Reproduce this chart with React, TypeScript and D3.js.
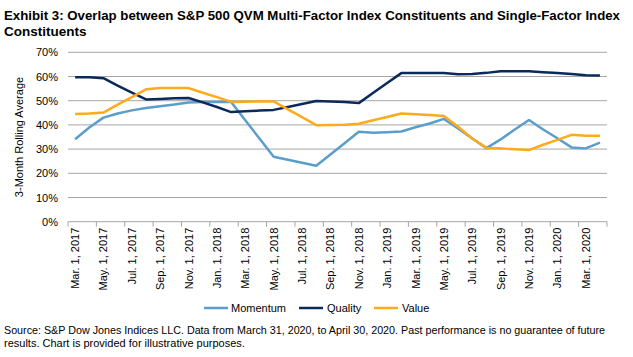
import React from "react";
import * as d3 from "d3";

const months: string[] = [
  "Mar. 1, 2017","Apr. 1, 2017","May. 1, 2017","Jun. 1, 2017","Jul. 1, 2017","Aug. 1, 2017","Sep. 1, 2017","Oct. 1, 2017","Nov. 1, 2017","Dec. 1, 2017",
  "Jan. 1, 2018","Feb. 1, 2018","Mar. 1, 2018","Apr. 1, 2018","May. 1, 2018","Jun. 1, 2018","Jul. 1, 2018","Aug. 1, 2018","Sep. 1, 2018","Oct. 1, 2018",
  "Nov. 1, 2018","Dec. 1, 2018","Jan. 1, 2019","Feb. 1, 2019","Mar. 1, 2019","Apr. 1, 2019","May. 1, 2019","Jun. 1, 2019","Jul. 1, 2019","Aug. 1, 2019",
  "Sep. 1, 2019","Oct. 1, 2019","Nov. 1, 2019","Dec. 1, 2019","Jan. 1, 2020","Feb. 1, 2020","Mar. 1, 2020","Apr. 1, 2020",
];

const momentum: number[] = [
  34.1, 38.9, 43.0, 44.7, 46.0, 47.0, 47.7, 48.4, 49.3, 49.5,
  49.5, 49.5, 41.9, 34.4, 26.8, 25.6, 24.4, 23.1, 27.8, 32.4,
  37.2, 36.8, 37.0, 37.3, 39.0, 40.6, 42.5, 38.5, 34.4, 30.4,
  34.0, 38.1, 42.0, 38.1, 34.5, 30.7, 30.3, 32.7,
];

const quality: number[] = [
  59.7, 59.7, 59.3, 56.2, 53.3, 50.5, 50.7, 51.0, 51.1, 49.3,
  47.4, 45.3, 45.6, 45.9, 46.2, 47.4, 48.6, 49.9, 49.7, 49.5,
  49.0, 53.2, 57.3, 61.4, 61.4, 61.4, 61.4, 60.9, 61.0, 61.5,
  62.2, 62.2, 62.2, 61.8, 61.4, 61.0, 60.5, 60.4,
];

const value: number[] = [
  44.5, 44.7, 45.1, 48.4, 51.5, 54.7, 55.2, 55.2, 55.2, 53.3,
  51.5, 49.5, 49.6, 49.7, 49.7, 46.4, 43.2, 39.9, 40.0, 40.1,
  40.5, 41.9, 43.3, 44.7, 44.4, 44.1, 43.7, 39.2, 34.4, 30.5,
  30.3, 29.9, 29.6, 31.8, 33.8, 35.9, 35.5, 35.5,
];

const yTicks: number[] = [0, 10, 20, 30, 40, 50, 60, 70];

const seriesNames: string[] = ["Momentum", "Quality", "Value"];
const seriesColors: string[] = ["#5B9DCB", "#0A2A5A", "#FDAA1B"];

const titleLines: string[] = [
  "Exhibit 3: Overlap between S&P 500 QVM Multi-Factor Index Constituents and Single-Factor Index",
  "Constituents",
];
const footerLines: string[] = [
  "Source: S&P Dow Jones Indices LLC. Data from March 31, 2020, to April 30, 2020. Past performance is no guarantee of future",
  "results. Chart is provided for illustrative purposes.",
];
const yAxisTitle = "3-Month Rolling Average";

const FONT = "Arial, 'Liberation Sans', Helvetica, sans-serif";

export default function App() {
  const W = 633, H = 357;
  const left = 68, right = 607, top = 52.3, bottom = 221.7;

  const x = d3.scalePoint<string>().domain(months).range([left, right]).padding(0.5);
  const step = x.step();
  const y = d3.scaleLinear().domain([0, 70]).range([bottom, top]);

  const allSeries = [momentum, quality, value];
  const line = d3
    .line<number>()
    .x((_, i) => x(months[i]) as number)
    .y((d) => y(d));

  const tickXs = d3.range(0, months.length + 1, 2).map((i) => left + i * step);
  const labelIdx = d3.range(0, months.length, 2);

  const legendItems = [
    { lx: 204, tx: 231 },
    { lx: 299, tx: 327 },
    { lx: 374, tx: 402 },
  ];

  return (
    <svg width={W} height={H} style={{ position: "absolute", left: 0, top: 0, background: "#fff" }} fontFamily={FONT}>
      <rect width={W} height={H} fill="#fff" />
      {titleLines.map((t, i) => (
        <text key={t} x={4} y={20 + i * 16} fontSize={13.5} fontWeight="bold" fill="#000"
          textLength={i === 0 ? 616 : undefined} lengthAdjust="spacingAndGlyphs">
          {t}
        </text>
      ))}

      {yTicks.map((t) => (
        <g key={t}>
          {t > 0 && (
            <line x1={left} x2={right} y1={y(t)} y2={y(t)} stroke="#A6A6A6" strokeWidth={1} />
          )}
          <text x={58} y={y(t) + 4} fontSize={11} textAnchor="end" fill="#000">
            {t}%
          </text>
        </g>
      ))}

      <line x1={left} x2={right} y1={bottom} y2={bottom} stroke="#A6A6A6" strokeWidth={1} />
      {tickXs.map((tx, i) => (
        <line key={i} x1={tx} x2={tx} y1={bottom} y2={bottom + 5} stroke="#A6A6A6" strokeWidth={1} />
      ))}
      {labelIdx.map((i) => {
        const px = (x(months[i]) as number) + 4;
        return (
          <text key={i} transform={`translate(${px},${bottom + 6}) rotate(-90)`} fontSize={11} textAnchor="end" fill="#000">
            {months[i]}
          </text>
        );
      })}

      <text transform={`translate(23,${(top + bottom) / 2}) rotate(-90)`} fontSize={11} textAnchor="middle" fill="#000">
        {yAxisTitle}
      </text>

      {allSeries.map((s, k) => (
        <path key={k} d={line(s) as string} fill="none" stroke={seriesColors[k]} strokeWidth={2.5} strokeLinejoin="round" />
      ))}

      {seriesNames.map((n, k) => (
        <g key={n}>
          <line x1={legendItems[k].lx} x2={legendItems[k].lx + 24} y1={308} y2={308} stroke={seriesColors[k]} strokeWidth={2.5} />
          <text x={legendItems[k].tx} y={312} fontSize={11} fill="#000">{n}</text>
        </g>
      ))}

      {footerLines.map((t, i) => (
        <text key={i} x={4} y={334 + i * 13} fontSize={11} fill="#000"
          textLength={i === 0 ? 601 : undefined} lengthAdjust="spacingAndGlyphs">
          {t}
        </text>
      ))}
    </svg>
  );
}
